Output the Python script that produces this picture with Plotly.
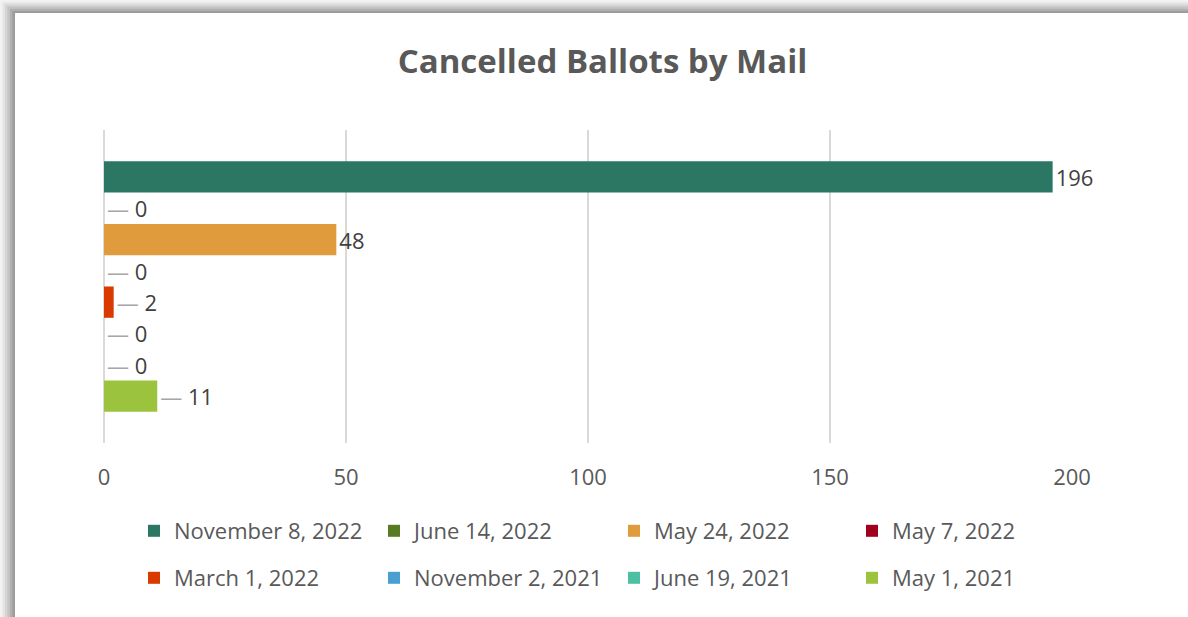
import plotly.graph_objects as go

series_names = ["November 8, 2022", "June 14, 2022", "May 24, 2022", "May 7, 2022",
                "March 1, 2022", "November 2, 2021", "June 19, 2021", "May 1, 2021"]
series_values = [196, 0, 48, 0, 2, 0, 0, 11]
series_colors = ["#2B7764", "#587A23", "#E09B3D", "#A0001E",
                 "#D83A00", "#4A9FD2", "#4DBFA2", "#9CC33E"]
category = ["Cancelled Ballots"]
x_ticks = [0, 50, 100, 150, 200]

FONT = "'Open Sans', sans-serif"
W, H = 1188, 617
L, T = 104, 130
R, B = W - 1072, H - 443
pw, ph = W - L - R, H - T - B

def px_x(px):
    return (px - L) / pw

def px_y(py):
    return (H - B - py) / ph

legend_cols = [134, 374, 614, 852]
legend_rows = [531, 578]

fig = go.Figure()
for i, (name, val, col) in enumerate(zip(series_names, series_values, series_colors)):
    if val < 20:
        label = "<span style='color:#a6a6a6'>—</span> " + str(val)
    else:
        label = str(val)
    lg = "legend" if i == 0 else "legend%d" % (i + 1)
    fig.add_trace(go.Bar(
        y=category, x=[val], name=name, orientation="h",
        marker=dict(color=col, line=dict(width=0)),
        text=[label], textposition="outside", cliponaxis=False,
        textfont=dict(size=22, color="#404040", family=FONT),
        legend=lg,
        hoverinfo="x+name",
    ))

# shadow frame (outside plot area)
shades = ["#f2f2f2", "#e4e4e4", "#d4d4d4", "#c4c4c4", "#b0b0b0", "#9c9c9c"]
for k, c in enumerate(shades):
    fig.add_shape(type="rect", xref="paper", yref="paper",
                  x0=px_x(k * 2.5), x1=px_x(W + 20), y0=px_y(H + 20), y1=px_y(k * 2.2),
                  fillcolor=c, line=dict(width=0), layer="below")
fig.add_shape(type="rect", xref="paper", yref="paper",
              x0=px_x(15), x1=px_x(W + 20), y0=px_y(H + 20), y1=px_y(13),
              fillcolor="white", line=dict(width=0), layer="below")

legends = {}
for i in range(len(series_names)):
    key = "legend" if i == 0 else "legend%d" % (i + 1)
    legends[key] = dict(orientation="h", xanchor="left", yanchor="middle",
                        x=px_x(legend_cols[i % 4]), y=px_y(legend_rows[i // 4]),
                        font=dict(size=22, color="#595959", family=FONT),
                        itemwidth=30, bgcolor="rgba(0,0,0,0)")

fig.update_layout(
    width=W, height=H,
    margin=dict(l=L, r=R, t=T, b=B, autoexpand=False),
    paper_bgcolor="white", plot_bgcolor="rgba(0,0,0,0)",
    title=dict(text="<b>Cancelled Ballots by Mail</b>", x=(397 + 808) / 2 / W, xanchor="center",
               y=1 - 61 / H, yanchor="middle",
               font=dict(size=33, color="#595959", family=FONT)),
    barmode="group", bargap=0.2, bargroupgap=0,
    showlegend=True,
    xaxis=dict(range=[0, 200], tickvals=x_ticks, showgrid=True, gridcolor="#d9d9d9", gridwidth=2,
               zeroline=True, zerolinecolor="#d9d9d9", zerolinewidth=2,
               showline=False, ticks="", ticklabelstandoff=19,
               tickfont=dict(size=22, color="#595959", family=FONT), fixedrange=True),
    yaxis=dict(autorange="reversed", showticklabels=False, showgrid=False, zeroline=False,
               showline=False, fixedrange=True),
    **legends,
)

fig.write_html("out.html", config={"displayModeBar": False},
               post_script="document.body.style.margin='0';")
